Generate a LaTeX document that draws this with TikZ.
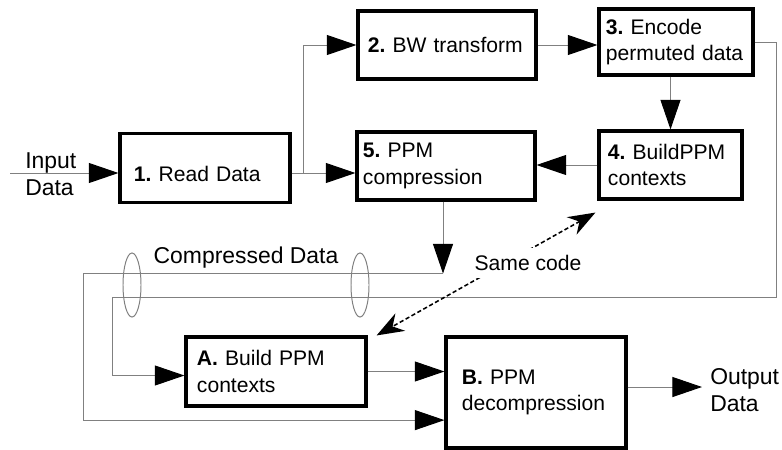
\documentclass[tikz,border=0pt]{standalone}
\usepackage{fontspec}
\setmainfont{Liberation Sans}
\usetikzlibrary{arrows.meta}
\frenchspacing

\begin{document}
\begin{tikzpicture}[x=0.025cm, y=-0.025cm,
  font=\fontsize{15}{19}\selectfont,
  stage/.style={draw, line width=2.2pt, align=left, inner xsep=0pt, inner ysep=2pt},
  wire/.style={draw=black!50, line width=0.7pt},
  flow/.style={wire, -{Triangle[length=0.74cm, width=0.5cm, color=black]}},
  samecode/.style={line width=1.1pt, dash pattern=on 3pt off 1.8pt,
    {Stealth[length=0.68cm, width=0.5cm]}-{Stealth[length=0.68cm, width=0.5cm]}},
  note/.style={align=left, inner sep=0pt, font=\fontsize{16.3}{19.5}\selectfont}]

  \useasboundingbox (0,0) rectangle (782,449);

  % compression
  \node[stage, minimum width=4.25cm, minimum height=1.725cm, text width=3.55cm, text height=0.66cm, text depth=0pt] (read) at (205,168) {\textbf{1.} Read Data};
  \node[stage, minimum width=4.45cm, minimum height=1.7cm, text width=3.95cm] (bwt) at (447,45) {\textbf{2.} BW transform};
  \node[stage, minimum width=3.85cm, minimum height=1.65cm, text width=3.5cm] (encode) at (676,42) {\textbf{3.} Encode\\permuted data};
  \node[stage, minimum width=3.575cm, minimum height=1.7cm, text width=3.125cm] (buildCtx) at (670.5,165) {\textbf{4.} BuildPPM\\contexts};
  \node[stage, minimum width=4.45cm, minimum height=1.7cm, text width=4.15cm] (ppmComp) at (446,166) {\textbf{5.} PPM\\compression};

  % decompression
  \node[stage, minimum width=4.5cm, minimum height=1.725cm, text width=3.95cm] (buildA) at (276,371.5) {\textbf{A.} Build PPM\\contexts};
  \node[stage, minimum width=4.5cm, minimum height=2.775cm, text width=3.7cm] (ppmDecomp) at (536,392.5) {\textbf{B.} PPM\\decompression};

  \coordinate (inStart) at (10,173);
  \coordinate (split) at (303,173);
  \coordinate (rightTurn) at (776,297);
  \coordinate (leftTurn) at (112,297);
  \coordinate (busTop) at (443,273.5);
  \coordinate (busLeft) at (83,273.5);
  \coordinate (outEnd) at (702,387);

  \draw[flow] (inStart) -- (inStart -| read.west);
  \node[note, anchor=west] (inText) at (25,174) {Input\\Data};

  \draw[wire] (read.east |- split) -- (split);
  \draw[flow] (split) |- (bwt.west);
  \draw[flow] (split) -- (ppmComp.west |- split);
  \draw[flow] (bwt.east) -- (encode.west |- bwt.east);
  \draw[flow] (encode.south -| buildCtx.north) -- (buildCtx.north);
  \draw[flow] (buildCtx.west) -- (ppmComp.east |- buildCtx.west);

  % data buses down to the decoder
  \draw[flow] (encode.east) -| (rightTurn) -- (leftTurn) |- ([yshift=-0.1cm]buildA.west);
  \draw[flow] (ppmComp.south -| busTop) -- (busTop);
  \draw[wire] (busTop) -- (busLeft);
  \draw[flow] (busLeft) |- ([yshift=-0.69cm]ppmDecomp.west);

  \draw[wire] (132,285) ellipse [x radius=0.225cm, y radius=0.8cm];
  \draw[wire] (360,285) ellipse [x radius=0.225cm, y radius=0.8cm];
  \node[note] (busText) at (246,258) {Compressed Data};

  \draw[flow] (buildA.east) -- (ppmDecomp.west |- buildA.east);
  \draw[flow] (ppmDecomp.east |- outEnd) -- (outEnd);
  \node[note, anchor=west] (outText) at (710,390) {Output\\Data};

  \draw[samecode] ([shift={(-2,12)}]buildCtx.south west) -- ([shift={(9,0)}]buildA.north east);
  \node[fill=white, inner sep=5pt] (same) at (528,263) {Same code};
\end{tikzpicture}
\end{document}
